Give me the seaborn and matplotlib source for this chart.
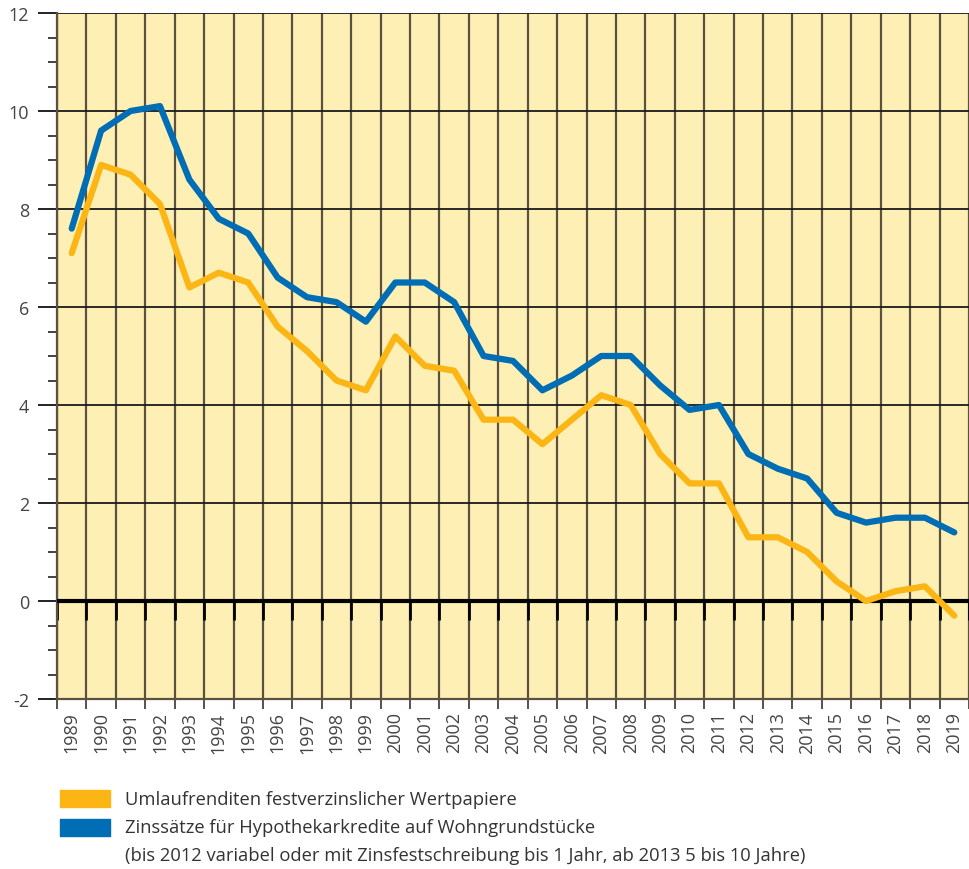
import matplotlib
matplotlib.use("Agg")
import matplotlib.pyplot as plt
import seaborn as sns
import pandas as pd
import numpy as np
from matplotlib.patches import Rectangle
from matplotlib.ticker import MultipleLocator, FixedLocator

years = list(range(1989, 2020))
umlauf = [7.1, 8.9, 8.7, 8.1, 6.4, 6.7, 6.5, 5.6, 5.1, 4.5, 4.3, 5.4, 4.8, 4.7, 3.7,
          3.7, 3.2, 3.7, 4.2, 4.0, 3.0, 2.4, 2.4, 1.3, 1.3, 1.0, 0.4, 0.0, 0.2, 0.3, -0.3]
hypo = [7.6, 9.6, 10.0, 10.1, 8.6, 7.8, 7.5, 6.6, 6.2, 6.1, 5.7, 6.5, 6.5, 6.1, 5.0,
        4.9, 4.3, 4.6, 5.0, 5.0, 4.4, 3.9, 4.0, 3.0, 2.7, 2.5, 1.8, 1.6, 1.7, 1.7, 1.4]
series_names = ["Umlaufrenditen festverzinslicher Wertpapiere",
                "Zinssätze für Hypothekarkredite auf Wohngrundstücke"]
note = "(bis 2012 variabel oder mit Zinsfestschreibung bis 1 Jahr, ab 2013 5 bis 10 Jahre)"
colors = ["#FBB615", "#006DB5"]
yticks = [-2, 0, 2, 4, 6, 8, 10, 12]

df = pd.DataFrame({
    "Jahr": years * 2,
    "Wert": umlauf + hypo,
    "Reihe": [series_names[0]] * len(years) + [series_names[1]] * len(years),
})

sns.set_style("white")
plt.rcParams["font.family"] = ["Open Sans", "DejaVu Sans"]

W, H = 969, 870
fig = plt.figure(figsize=(W / 100, H / 100), dpi=100)
ax = fig.add_axes([57 / W, 1 - 700 / H, 1 - 57 / W, (700 - 14) / H])
ax.set_facecolor("#FEF0B4")

xmin, xmax = years[0] - 0.5, years[-1] + 0.5
ax.set_xlim(xmin, xmax)
ax.set_ylim(yticks[0], yticks[-1])

bounds = np.arange(xmin, xmax + 0.01, 1.0)
grid_col = "#5a5142"
# vertical grid lines at year boundaries
ax.vlines(bounds, yticks[0], yticks[-1], color=grid_col, lw=1.6, zorder=1)
# horizontal grid lines
ax.hlines([t for t in yticks if t != 0], xmin, xmax, color="#1a1a1a", lw=1.3, zorder=1)
# stubs under zero line
ax.vlines(bounds, -0.38, 0, color="black", lw=2.0, zorder=2)
ax.axhline(0, color="black", lw=3, zorder=3)

sns.lineplot(data=df, x="Jahr", y="Wert", hue="Reihe", palette=colors,
             hue_order=series_names, linewidth=4.5, legend=False, ax=ax, zorder=4)

for s in ["top", "right"]:
    ax.spines[s].set_visible(False)
for s in ["left", "bottom"]:
    ax.spines[s].set_color(grid_col)
    ax.spines[s].set_linewidth(1.6)

# y ticks
ax.yaxis.set_major_locator(FixedLocator(yticks))
ax.yaxis.set_minor_locator(MultipleLocator(0.5))
ax.set_yticklabels([str(t) for t in yticks])
ax.tick_params(axis="y", which="both", left=True)
ax.tick_params(axis="y", which="major", length=14, width=1.4, color="#222222",
               labelsize=13, labelcolor="#444444", pad=6)
ax.tick_params(axis="y", which="minor", length=6.5, width=1.2, color="#222222")

# x ticks: marks at boundaries, labels at years
ax.xaxis.set_major_locator(FixedLocator(bounds))
ax.xaxis.set_minor_locator(FixedLocator(years))
ax.set_xticklabels([""] * len(bounds))
ax.set_xticklabels([str(y) for y in years], minor=True, rotation=90, va="top", ha="center")
ax.tick_params(axis="x", which="both", bottom=True)
ax.tick_params(axis="x", which="major", length=7.5, width=1.4, color=grid_col)
ax.tick_params(axis="x", which="minor", length=0, labelsize=13, labelcolor="#444444", pad=9)

ax.set_xlabel("")
ax.set_ylabel("")

# legend (manual)
def fx(px):
    return px / W
def fy(py):
    return 1 - py / H

fig.patches.append(Rectangle((fx(60), fy(808)), 50 / W, 17 / H, transform=fig.transFigure,
                             color=colors[0], figure=fig))
fig.patches.append(Rectangle((fx(60), fy(837)), 50 / W, 17 / H, transform=fig.transFigure,
                             color=colors[1], figure=fig))
txt_kw = dict(fontsize=13.2, color="#333333", va="center", ha="left")
fig.text(fx(125), fy(800), series_names[0], **txt_kw)
fig.text(fx(125), fy(828), series_names[1], **txt_kw)
fig.text(fx(125), fy(856), note, **txt_kw)

fig.savefig("out.png", dpi=100, facecolor="white")
